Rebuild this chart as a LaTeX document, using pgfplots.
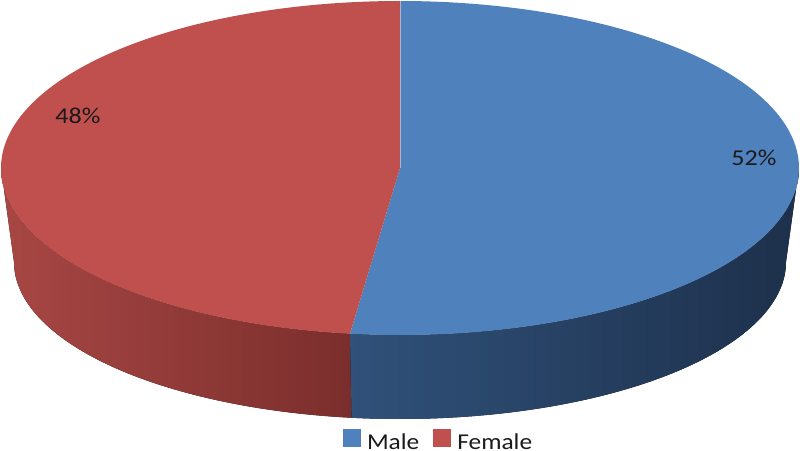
\documentclass[border=0pt]{standalone}
\usepackage{graphicx}
\usepackage{fontspec}
\setmainfont{Carlito}
\usepackage{pgfplots}
\pgfplotsset{compat=1.18}
\usepgfplotslibrary{fillbetween}
\definecolor{maleC}{HTML}{4F81BD}
\definecolor{femaleC}{HTML}{C0504D}
\definecolor{maleSideL}{HTML}{30517A}
\definecolor{maleSideR}{HTML}{1D304B}
\definecolor{femSideL}{HTML}{A84744}
\definecolor{femSideR}{HTML}{7A2E2C}
\definecolor{labC}{HTML}{1A1A1A}
\begin{document}
\begin{tikzpicture}
% data: share of each category (percent)
\def\male{52}
\def\female{48}
\pgfmathsetmacro{\angB}{90-3.6*\male}   % end of Male slice (clockwise from top)
\pgfmathsetmacro{\angBp}{\angB+360}
\begin{axis}[
  scale only axis, width=600pt, height=337.5pt,
  xmin=0, xmax=800, ymin=0, ymax=450,
  axis lines=none, clip=true,
  trig format plots=deg,
  legend columns=2,
  legend style={at={(axis cs:343,21)}, anchor=north west, draw=none, fill=none,
     inner sep=0pt, outer sep=0pt,
     font=\fontsize{17}{20}\selectfont,
     nodes={inner sep=0pt, text depth=0pt, text=labC},
     /tikz/every even column/.append style={column sep=10.5pt}},
  legend image code/.code={\fill[#1] (0pt,-4pt) rectangle (13.5pt,9.5pt); \path[draw=none,fill=none] (0pt,-4pt) rectangle (18pt,9.5pt);},
]
% ---- sides (front wall) ----
\addplot[name path=ftop, draw=none, forget plot, domain=180:\angBp, samples=80]
   ({400+399*cos(x)},{282+167*sin(x)});
\addplot[name path=fbot, draw=none, forget plot, domain=180:\angBp, samples=80]
   ({400+386*cos(x)},{188+157*sin(x)});
\addplot[name path=mtop, draw=none, forget plot, domain=\angBp:360, samples=100]
   ({400+399*cos(x)},{282+167*sin(x)});
\addplot[name path=mbot, draw=none, forget plot, domain=\angBp:360, samples=100]
   ({400+386*cos(x)},{188+157*sin(x)});
\addplot[forget plot, draw=none, left color=femSideL, right color=femSideR] fill between[of=ftop and fbot];
\addplot[forget plot, draw=none, left color=maleSideL, right color=maleSideR] fill between[of=mtop and mbot];
% ---- top faces ----
\addplot[forget plot, fill=maleC, draw=none, domain=\angB:90, samples=160]
   ({400+399*cos(x)},{282+167*sin(x)}) -- (axis cs:400,282) -- cycle;
\addplot[forget plot, fill=femaleC, draw=none, domain=90:\angBp, samples=160]
   ({400+399*cos(x)},{282+167*sin(x)}) -- (axis cs:400,282) -- cycle;
\addplot[forget plot, draw=white, draw opacity=0.45, line width=0.6pt] coordinates {(400,282) (400,450)};
% ---- labels ----
\node[text=labC, font=\fontsize{17}{20}\selectfont] at (axis cs:754,292.5) {\scalebox{1.15}[1]{52\%}};
\node[text=labC, font=\fontsize{17}{20}\selectfont] at (axis cs:78,334.5) {\scalebox{1.15}[1]{48\%}};
% ---- legend ----
\addlegendimage{fill=maleC, draw=none}
\addlegendentry{\scalebox{1.12}[1]{Male}}
\addlegendimage{fill=femaleC, draw=none}
\addlegendentry{\scalebox{1.12}[1]{Female}}
\end{axis}
\pgfresetboundingbox
\path[use as bounding box] (current axis.south west) rectangle (current axis.north east);
\end{tikzpicture}
\end{document}
